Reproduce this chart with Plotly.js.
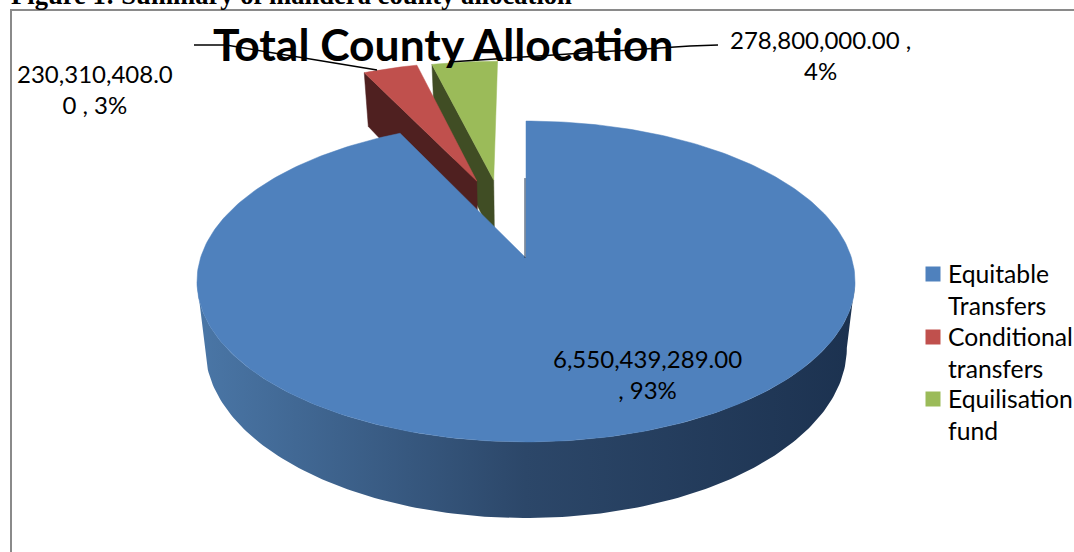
<!DOCTYPE html>
<html>
<head>
<meta charset="utf-8">
<script src="https://cdn.plot.ly/plotly-3.0.1.min.js"></script>
<style>html,body{margin:0;padding:0;background:#fff;overflow:hidden}</style>
</head>
<body>
<div id="chart" style="width:1074px;height:552px"></div>
<script>
// Allocation figures, in shillings
const categories = ["Equitable Transfers", "Conditional transfers", "Equilisation fund"];
const legendLines = [["Equitable", "Transfers"], ["Conditional", "transfers"], ["Equilisation", "fund"]];
const values = [6550439289.00, 230310408.00, 278800000.00];
const topColors = ["#4f81bd", "#c0504d", "#9bbb59"];
const sideColors = ["#1f3552", "#4f2020", "#404d24"];

// Disc projection: perspective ellipse on pixel axes
const CX = 526, CY = 258, SX = 325.5, SY = 157, K = 0.1464, DEPTH = 65, SHRINK = 0.975;
// Exploded offsets of each slice on the unit disc
const offsets = [[0, 0], [-0.163, -0.528], [-0.107, -0.535]];
const FONT = "Lato, Carlito, Calibri, sans-serif";
const LABEL_SIZE = 24, LEGEND_SIZE = 24.7;

function topPt(X, Y) {
  const s = 1 / (1 - K * Y);
  return [CX + SX * X * s, CY + SY * Y * s];
}
function basePt(X, Y) {
  const s = 1 / (1 - K * Y);
  return [CX + SHRINK * SX * X * s, CY + SY * Y * s + DEPTH * s];
}
function onDisc(deg, off) {
  const a = deg * Math.PI / 180;
  return [off[0] + Math.sin(a), off[1] - Math.cos(a)];
}
function poly(pts, fill, extra) {
  return Object.assign({
    x: pts.map(p => p[0]), y: pts.map(p => p[1]),
    mode: "lines", fill: "toself", fillcolor: fill,
    line: {color: fill, width: 0.5}, hoverinfo: "skip", showlegend: false
  }, extra || {});
}

// Slice angles run clockwise from twelve o'clock
const total = values.reduce((a, b) => a + b, 0);
const spans = [];
let start = 0;
values.forEach(v => { const sweep = v / total * 360; spans.push([start, start + sweep]); start += sweep; });

function sliceTop(i) {
  const off = offsets[i], pts = [topPt(off[0], off[1])];
  const step = Math.min(1, (spans[i][1] - spans[i][0]) / 8);
  for (let d = spans[i][0]; d <= spans[i][1] + 1e-6; d += step) {
    const p = onDisc(d, off); pts.push(topPt(p[0], p[1]));
  }
  const e = onDisc(spans[i][1], off); pts.push(topPt(e[0], e[1]));
  pts.push(pts[0]);
  return pts;
}
// Wall standing on a slice's leading straight edge
function edgeWall(i) {
  const off = offsets[i], e = onDisc(spans[i][0], off);
  return [topPt(off[0], off[1]), topPt(e[0], e[1]), basePt(e[0], e[1]), basePt(off[0], off[1])];
}
// Outer rim of the big slice, between the two silhouette extremes of the disc
function rim() {
  const upper = [], lower = [];
  const edge = Math.asin(K) * 180 / Math.PI;
  for (let d = 90 + edge; d <= 270 - edge + 1e-6; d += 1) {
    const p = onDisc(d, offsets[0]);
    upper.push(topPt(p[0], p[1]));
    lower.unshift(basePt(p[0], p[1]));
  }
  return upper.concat(lower);
}

const traces = [];
// Back to front: small slices, then the big slice
[2, 1].forEach(i => {
  const w = edgeWall(i);
  traces.push(poly(w.concat([w[0]]), sideColors[i]));
  traces.push(poly(sliceTop(i), topColors[i]));
});
const rimPts = rim();
traces.push(poly(rimPts.concat([rimPts[0]]), "#2f4d73", {
  line: {width: 0},
  fillgradient: {type: "horizontal", start: 200, stop: 850,
    colorscale: [[0, "#4a76a6"], [0.5, "#2c4769"], [1, "#1c3250"]]}
}));
traces.push(poly(sliceTop(0), topColors[0]));
// Edge-on wall along the vertical cut of the big slice
const cut = [topPt(0, 0), topPt(0, -0.55)];
traces.push({x: cut.map(p => p[0] - 1), y: cut.map(p => p[1]), mode: "lines",
  line: {color: sideColors[0], width: 1}, hoverinfo: "skip", showlegend: false});

// Leader lines from the slices to their labels
const leaders = [
  {x: [194, 226, 377], y: [45, 45, 70]},
  {x: [449, 690, 718], y: [62, 46, 45]}
];
leaders.forEach(l => traces.push({x: l.x, y: l.y, mode: "lines",
  line: {color: "#000", width: 1.5}, hoverinfo: "skip", showlegend: false}));

// Legend keys
const legendKeyX = 933, legendKeyY = [274, 337, 399];
categories.forEach((c, i) => traces.push({
  x: [legendKeyX], y: [legendKeyY[i]], name: c, mode: "markers",
  marker: {symbol: "square", size: 15, color: topColors[i]},
  hoverinfo: "name", showlegend: false
}));

function money(v) {
  return v.toFixed(2).replace(/\B(?=(\d{3})+(?!\d))/g, ",");
}
function pct(v) { return Math.round(v / total * 100) + "%"; }

const labelFont = {family: FONT, size: LABEL_SIZE, color: "#000"};
const legendFont = {family: FONT, size: LEGEND_SIZE, color: "#000"};
function note(text, x, y, font, xanchor, extra) {
  return Object.assign({text, x, y, xref: "x", yref: "y", showarrow: false,
    xanchor: xanchor || "center", yanchor: "middle", align: xanchor || "center", font: font || labelFont}, extra || {});
}
const m = values.map(money);
const annotations = [
  note("<b>Figure 1: Summary of mandera county allocation</b>", 9, 12,
       {family: "Liberation Serif, Times New Roman, serif", size: 26.6, color: "#000"}, "left", {yanchor: "bottom"}),
  note("<b>Total County Allocation</b>", 443, 43, {family: FONT, size: 44.4, color: "#000"}),
  note(m[0] + "<br>, " + pct(values[0]), 647, 373.5),
  note(m[1].slice(0, 13) + "<br>" + m[1].slice(13) + " , " + pct(values[1]), 95, 88.5),
  note(m[2] + " ,<br>" + pct(values[2]), 820, 55)
];
legendLines.forEach((lines, i) => annotations.push(
  note(lines.join("<br>"), 946, legendKeyY[i] + 15, legendFont, "left")));

Plotly.newPlot("chart", traces, {
  width: 1074, height: 552,
  margin: {l: 0, r: 0, t: 0, b: 0},
  paper_bgcolor: "#fff", plot_bgcolor: "#fff",
  xaxis: {range: [0, 1074], visible: false, fixedrange: true},
  yaxis: {range: [552, 0], visible: false, fixedrange: true},
  showlegend: false,
  annotations,
  shapes: [{type: "rect", xref: "x", yref: "y", x0: 11, y0: 10, x1: 1090, y1: 600,
            line: {color: "#8a8a8a", width: 2}, layer: "below"}]
}, {staticPlot: true});
</script>
</body>
</html>
